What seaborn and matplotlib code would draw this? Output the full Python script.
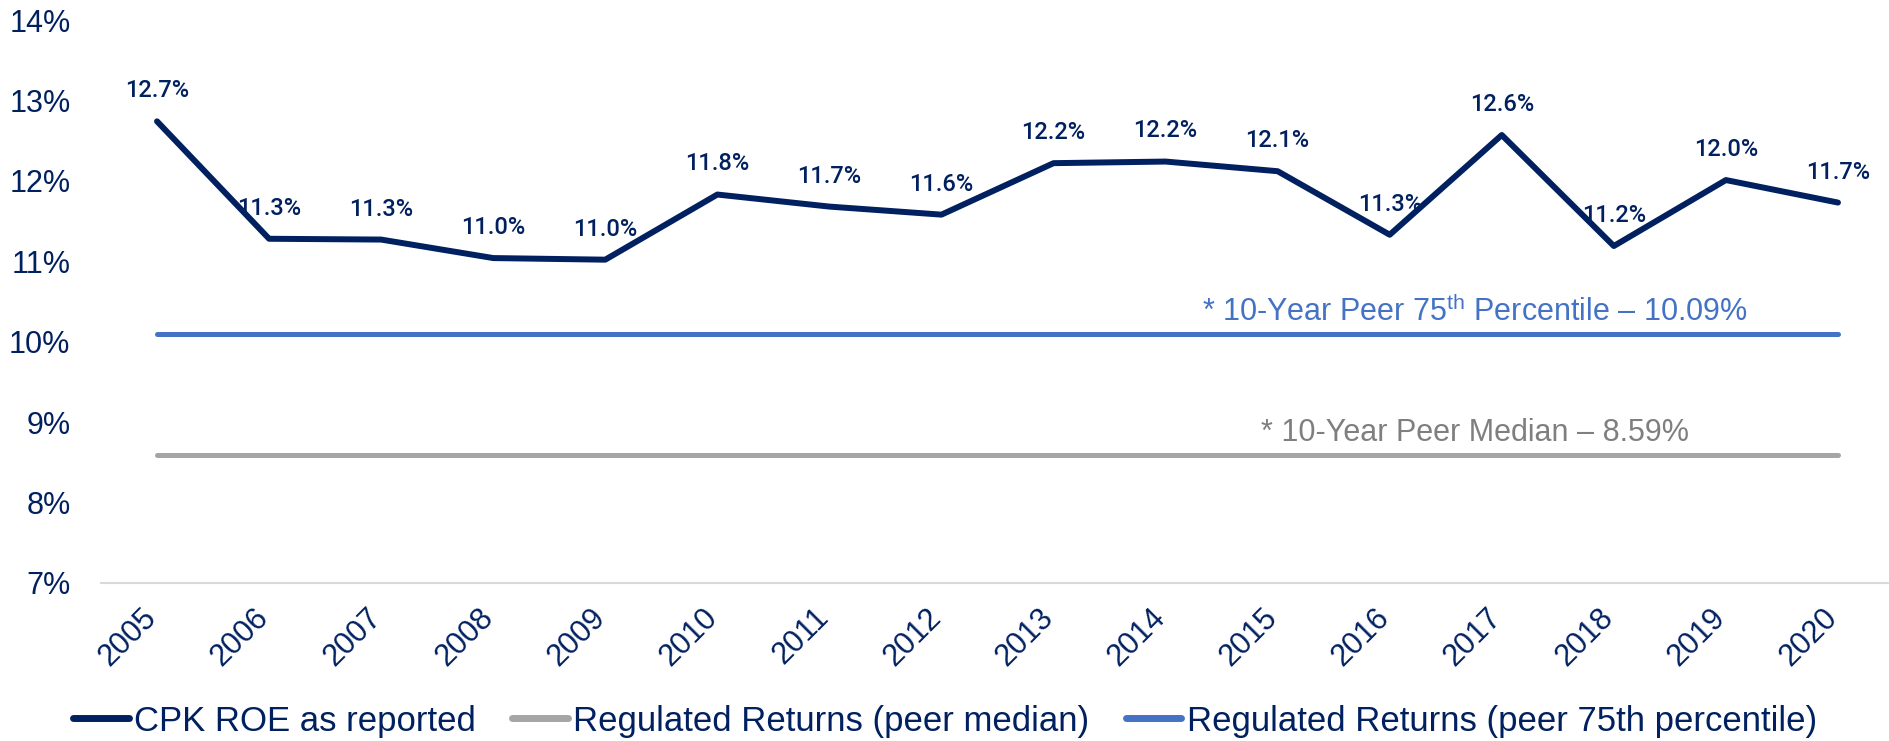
"""
cpk_roe_chart.py

CPK reported ROE vs regulated peer returns, 2005-2020.
"""

import matplotlib

matplotlib.use("Agg")

import matplotlib.pyplot as plt
import matplotlib.transforms as mtransforms
import pandas as pd
import seaborn as sns

years = list(range(2005, 2021))
cpk_roe = [12.74, 11.28, 11.27, 11.04, 11.02, 11.83, 11.68, 11.58,
           12.22, 12.24, 12.12, 11.33, 12.57, 11.19, 12.01, 11.73]
peer_median = 8.59
peer_p75 = 10.09

series_names = [
    "CPK ROE as reported",
    "Regulated Returns (peer median)",
    "Regulated Returns (peer 75th percentile)",
]
y_ticks = [7, 8, 9, 10, 11, 12, 13, 14]

NAVY = "#002060"
GRAY = "#A5A5A5"
BLUE = "#4472C4"


def build_frame() -> pd.DataFrame:
    rows = []
    for y, v in zip(years, cpk_roe):
        rows.append({"Year": y, "ROE": v, "Series": series_names[0]})
    for y in years:
        rows.append({"Year": y, "ROE": peer_median, "Series": series_names[1]})
    for y in years:
        rows.append({"Year": y, "ROE": peer_p75, "Series": series_names[2]})
    return pd.DataFrame(rows)


def main():
    sns.set_theme(style="white")
    plt.rcParams["font.family"] = ["Liberation Sans", "DejaVu Sans"]
    plt.rcParams["mathtext.fontset"] = "custom"
    plt.rcParams["mathtext.rm"] = "Liberation Sans"

    df = build_frame()

    fig = plt.figure(figsize=(18.9, 7.41), dpi=100)
    ax = fig.add_axes([101 / 1890, 158 / 741, 1793 / 1890, 563 / 741])

    palette = {series_names[0]: NAVY, series_names[1]: GRAY, series_names[2]: BLUE}
    sns.lineplot(data=df, x="Year", y="ROE", hue="Series", hue_order=series_names,
                 palette=palette, ax=ax, linewidth=3.6, solid_capstyle="round",
                 legend=True)
    for line in ax.lines:
        if line.get_color() == NAVY:
            line.set_linewidth(4.3)

    ax.set_xlim(years[0] - 0.5, years[-1] + 0.5)
    ax.set_ylim(y_ticks[0], y_ticks[-1])
    ax.set_yticks(y_ticks)
    ax.set_yticklabels([f"{t}%" for t in y_ticks])
    ax.set_xticks(years)
    ax.set_xticklabels([str(y) for y in years], rotation=45, ha="right")
    ax.set_xlabel("")
    ax.set_ylabel("")

    ax.tick_params(axis="y", length=0, pad=22, labelsize=22, labelcolor=NAVY)
    ax.tick_params(axis="x", length=0, pad=14, labelsize=22, labelcolor=NAVY)
    offset = mtransforms.ScaledTranslation(6 / 100, 0, fig.dpi_scale_trans)
    for lab in ax.get_xticklabels():
        lab.set_transform(lab.get_transform() + offset)

    for side in ["top", "left", "right"]:
        ax.spines[side].set_visible(False)
    ax.spines["bottom"].set_color("#D9D9D9")
    ax.spines["bottom"].set_linewidth(1.5)

    # data labels above each point
    for y, v in zip(years, cpk_roe):
        ax.annotate(f"{v:.1f}%", xy=(y, v), xytext=(0, 22), textcoords="offset points",
                    ha="center", va="center", fontsize=17, color=NAVY,
                    family=["Roboto", "DejaVu Sans"], fontweight="medium")

    ax.annotate("* 10-Year Peer 75$^{\\rm th}$ Percentile \u2013 10.09%",
                xy=(2016.76, peer_p75), xytext=(0, 16), textcoords="offset points",
                ha="center", va="center", fontsize=22, color=BLUE)
    ax.annotate("* 10-Year Peer Median \u2013 8.59%",
                xy=(2016.76, peer_median), xytext=(0, 16), textcoords="offset points",
                ha="center", va="center", fontsize=22, color="#7F7F7F")

    handles, labels = ax.get_legend_handles_labels()
    ax.get_legend().remove()
    leg = fig.legend(handles, labels, loc="center", bbox_to_anchor=(0.5, 20 / 741),
                     ncol=3, frameon=False, fontsize=25, handlelength=1.6,
                     handletextpad=0.15, columnspacing=1.05, labelcolor=NAVY)
    for h in leg.get_lines():
        h.set_linewidth(5)
        h.set_solid_capstyle("round")

    fig.savefig("out.png", dpi=100)


if __name__ == "__main__":
    main()
